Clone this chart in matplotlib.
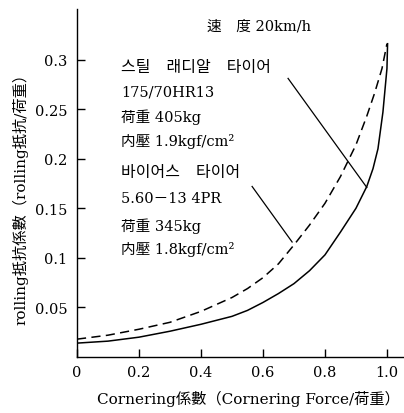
import matplotlib
matplotlib.use("Agg")
import matplotlib.pyplot as plt

plt.rcParams['font.family'] = ['DejaVu Serif', 'Noto Sans CJK KR', 'DejaVu Sans']

# Radial tyre (solid)
radial_x = [0, 0.1, 0.2, 0.3, 0.4, 0.5, 0.55, 0.6, 0.65, 0.7, 0.75, 0.8, 0.85, 0.9, 0.935, 0.955, 0.971, 0.987, 1.0, 1.002]
radial_y = [0.014, 0.016, 0.020, 0.026, 0.033, 0.041, 0.047, 0.055, 0.064, 0.074, 0.087, 0.103, 0.126, 0.150, 0.172, 0.190, 0.210, 0.247, 0.291, 0.316]
# Bias tyre (dashed)
bias_x = [0, 0.1, 0.2, 0.3, 0.4, 0.5, 0.55, 0.6, 0.65, 0.7, 0.75, 0.8, 0.85, 0.9, 0.935, 0.96, 0.984, 1.0]
bias_y = [0.018, 0.022, 0.028, 0.035, 0.046, 0.060, 0.069, 0.080, 0.094, 0.113, 0.133, 0.155, 0.182, 0.214, 0.243, 0.266, 0.291, 0.316]

x_ticks = [0, 0.2, 0.4, 0.6, 0.8, 1.0]
x_ticklabels = ["0", "0.2", "0.4", "0.6", "0.8", "1.0"]
y_ticks = [0.05, 0.1, 0.15, 0.2, 0.25, 0.3]
y_ticklabels = ["0.05", "0.1", "0.15", "0.2", "0.25", "0.3"]

radial_lines = ["스틸　래디알　타이어", "175/70HR13", "荷重 405kg", "内壓 1.9kgf/cm²"]
bias_lines = ["바이어스　타이어", "5.60－13 4PR", "荷重 345kg", "内壓 1.8kgf/cm²"]
speed_text = "速　度 20km/h"
xlabel = "Cornering係數（Cornering Force/荷重）"
ylabel = "rolling抵抗係數（rolling抵抗/荷重）"

fig = plt.figure(figsize=(4.04, 4.14), dpi=100)
ax = fig.add_axes([77/404, 56/414, 327/404, 348/414])
ax.set_xlim(0, 1.055)
ax.set_ylim(0, 0.351)

ax.plot(radial_x, radial_y, color='black', lw=1.1)
ax.plot(bias_x, bias_y, color='black', lw=1.1, dashes=(6, 3.5))

# leader lines
ax.plot([0.681, 0.935], [0.281, 0.171], color='black', lw=0.9)
ax.plot([0.565, 0.694], [0.172, 0.116], color='black', lw=0.9)

for s in ['top', 'right']:
    ax.spines[s].set_visible(False)
for s in ['left', 'bottom']:
    ax.spines[s].set_linewidth(1.0)

ax.set_xticks(x_ticks)
ax.set_xticklabels(x_ticklabels)
ax.set_yticks(y_ticks)
ax.set_yticklabels(y_ticklabels)
ax.tick_params(direction='in', length=6, width=1.0, labelsize=10.5)
ax.tick_params(axis='y', pad=7)
ax.tick_params(axis='x', pad=6)

fs = 10.5
ax.text(0.587, 0.334, speed_text, ha='center', va='center', fontsize=fs)
ys1 = [0.293, 0.268, 0.243, 0.218]
ys2 = [0.187, 0.160, 0.133, 0.109]
for i, (t, y) in enumerate(zip(radial_lines, ys1)):
    ax.text(0.143, y, t, ha='left', va='center', fontsize=11.5 if i == 0 else fs)
for i, (t, y) in enumerate(zip(bias_lines, ys2)):
    ax.text(0.143, y, t, ha='left', va='center', fontsize=11.5 if i == 0 else fs)

fig.text(248/404, 1 - 399/414, xlabel, ha='center', va='center', fontsize=11)
fig.text(20/404, 1 - 195/414, ylabel, ha='center', va='center', rotation=90, fontsize=11)

fig.savefig("out.png", dpi=100)
